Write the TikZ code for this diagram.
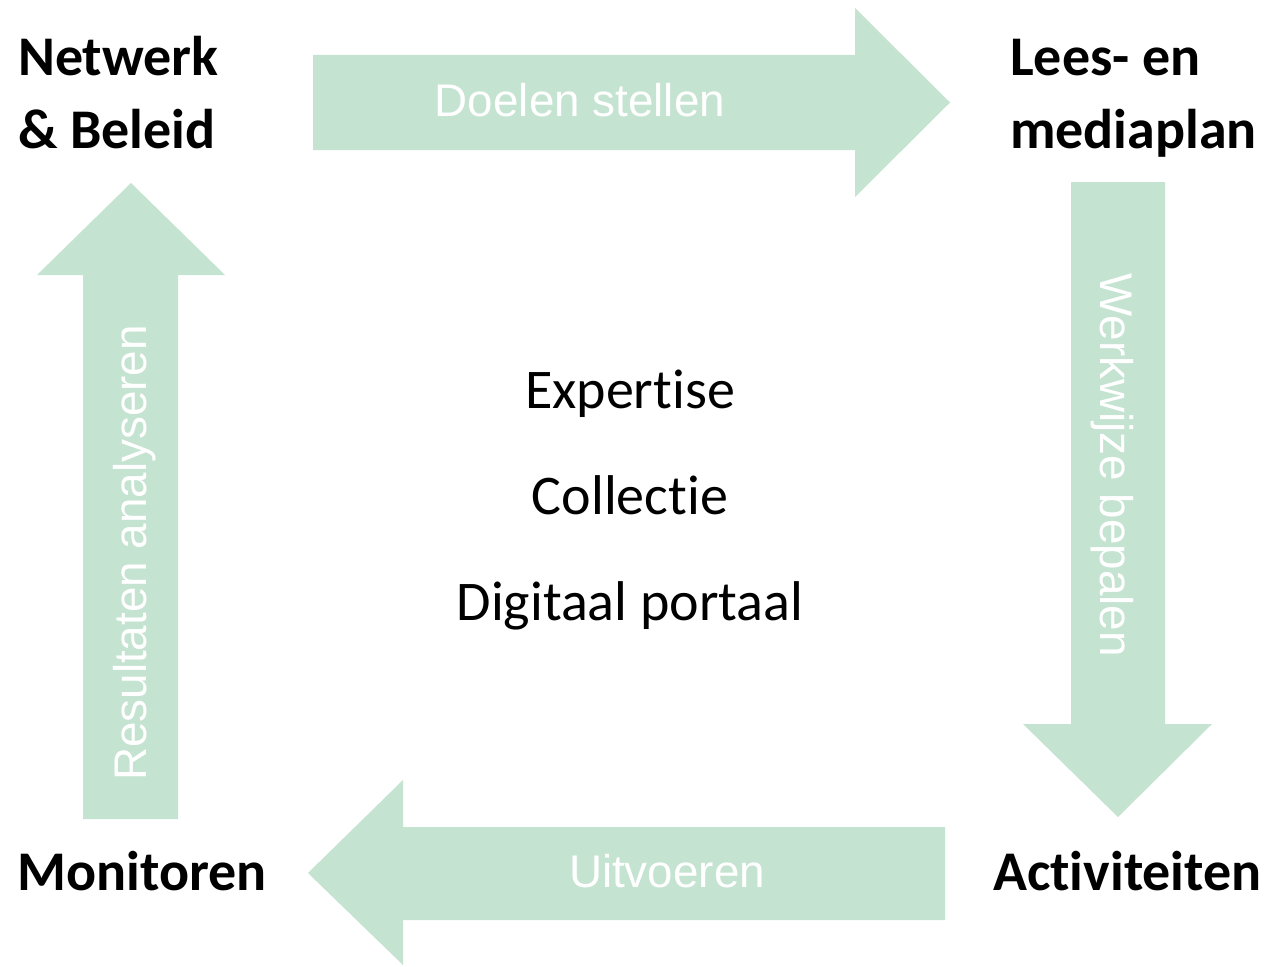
\documentclass[tikz,border=0pt]{standalone}
\usepackage{fontspec}
\setmainfont{Carlito}[Ligatures=NoCommon]
\newfontfamily\arialfont{Liberation Sans}
\definecolor{arrowgreen}{HTML}{C5E3D1}
\begin{document}
\begin{tikzpicture}[x=1pt,y=-1pt,
  blockarrow/.style={fill=arrowgreen,draw=none},
  steplabel/.style={font=\fontsize{56}{73}\selectfont\bfseries,inner sep=0pt,align=left,anchor=base west},
  arrowtext/.style={font=\arialfont\fontsize{45.8}{54}\selectfont,text=white,inner sep=0pt},
  centertext/.style={font=\fontsize{56}{106}\selectfont,inner sep=0pt,anchor=base}]
\useasboundingbox[fill=white] (0,0) rectangle (1271,966);
% block arrows
\fill[blockarrow] (313,55) -- (855,55) -- (855,8) -- (950,102.5) -- (855,197) -- (855,150) -- (313,150) -- cycle;
\fill[blockarrow] (1071,182) -- (1165,182) -- (1165,724) -- (1212,724) -- (1118,817) -- (1023,724) -- (1071,724) -- cycle;
\fill[blockarrow] (945,827) -- (403,827) -- (403,780) -- (308,873) -- (403,965) -- (403,920) -- (945,920) -- cycle;
\fill[blockarrow] (83,819) -- (178,819) -- (178,275) -- (225,275) -- (131,183) -- (37,275) -- (83,275) -- cycle;
% arrow labels
\node[arrowtext,anchor=base] (doelen) at (580,116) {Doelen stellen};
\node[arrowtext,anchor=base west,rotate=-90] (werkwijze) at (1100,273) {Werkwijze bepalen};
\node[arrowtext,anchor=base] (uitvoeren) at (667,887) {Uitvoeren};
\node[arrowtext,anchor=base west,rotate=90] (resultaten) at (146,781) {Resultaten analyseren};
% corner labels (base anchor = baseline of last line)
\node[steplabel] (netwerk) at (18,148) {Netwerk\\\& Beleid};
\node[steplabel] (lees) at (1010,148) {Lees- en\\mediaplan};
\node[steplabel] (activiteiten) at (993,890) {Activiteiten};
\node[steplabel] (monitoren) at (17,890) {Monitoren};
% centre
\node[centertext] (expertise) at (630,408) {Expertise};
\node[centertext] (collectie) at (630,514) {Collectie};
\node[centertext] (digitaal) at (630,620) {Digitaal portaal};
\end{tikzpicture}
\end{document}
